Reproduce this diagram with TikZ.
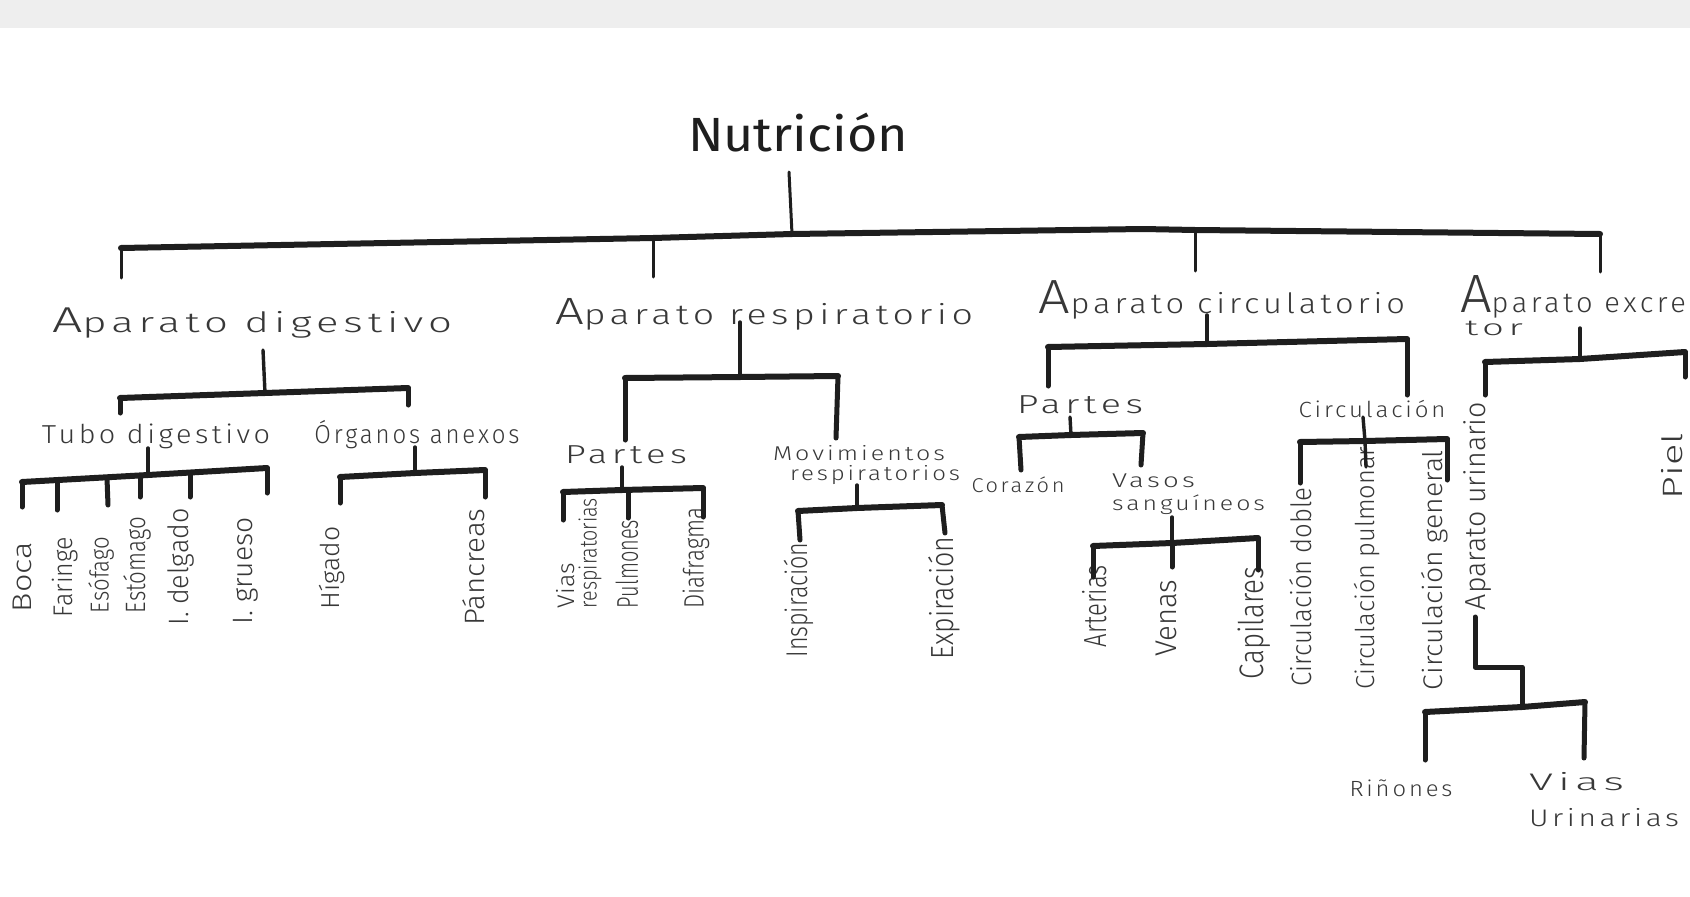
\documentclass[tikz,border=0pt]{standalone}
\usepackage{fontspec}
\usepackage{graphicx}
\setmainfont{Fira Sans Light}[LetterSpace=12]
\newfontfamily\titlefont{Fira Sans}
\newfontfamily\tight{Fira Sans Light}
\newcommand\fw[2]{\resizebox{#1pt}{\height}{#2}}
\newcommand\fsz[1]{\fontsize{#1}{#1}\selectfont}
\definecolor{ink}{HTML}{1E1E1E}
\definecolor{pencil}{HTML}{383838}
\definecolor{band}{HTML}{EEEEEE}
\begin{document}
\begin{tikzpicture}[x=1pt,y=-1pt,
  lbl/.style={inner sep=0pt, outer sep=0pt, text=pencil},
  vlbl/.style={lbl, rotate=90, font=\tight},
  stemline/.style={draw=ink, line width=3.4pt, line cap=round},
  barline/.style={draw=ink, line width=6pt, line cap=round, line join=round},
  dropline/.style={draw=ink, line width=5pt, line cap=round},
  thindrop/.style={draw=ink, line width=3pt, line cap=round}]
\useasboundingbox (0,0) rectangle (1690,897);
\fill[white] (0,0) rectangle (1690,897);
\fill[band] (0,0) rectangle (1690,28);
\clip (0,0) rectangle (1690,897);

% ---------- labels ----------
\node[lbl, anchor=base, text=ink] (nut) at (798,151) {\titlefont\fsz{48}\fw{220}{Nutrición}};

\node[lbl, anchor=base] (dig)  at (252,332)  {\fsz{28}\fw{400}{{\fsz{36}A}parato digestivo}};
\node[lbl, anchor=base] (resp) at (764,324)  {\fsz{28}\fw{418}{{\fsz{38}A}parato respiratorio}};
\node[lbl, anchor=base] (circ) at (1222,313) {\fsz{28}\fw{366}{{\fsz{48}A}parato circulatorio}};
\node[lbl, anchor=base west] (excr) at (1460,312) {\fsz{28}\fw{226}{{\fsz{54}A}parato excre}};
\node[lbl, anchor=base west] (tor) at (1465,335) {\fsz{22}\fw{58}{tor}};

\node[lbl, anchor=base] (tubo) at (156,443) {\fsz{26}\fw{228}{Tubo digestivo}};
\node[lbl, anchor=base] (org)  at (417,443) {\fsz{26}\fw{205}{Órganos anexos}};

\node[vlbl] (boca) at (22,577)  {\fsz{27}\fw{70}{Boca}};
\node[vlbl] (far)  at (65,577)  {\fsz{27}\fw{80}{Faringe}};
\node[vlbl] (eso)  at (101,575) {\fsz{26}\fw{76}{Esófago}};
\node[vlbl] (est)  at (137,565) {\fsz{28}\fw{96}{Estómago}};
\node[vlbl] (idel) at (181,567) {\fsz{28}\fw{117}{I. delgado}};
\node[vlbl] (igru) at (246,571) {\fsz{28}\fw{107}{I. grueso}};
\node[vlbl] (hig)  at (332,568) {\fsz{26}\fw{83}{Hígado}};
\node[vlbl] (pan)  at (474,567) {\fsz{28}\fw{117}{Páncreas}};

\node[lbl, anchor=base] (partesR) at (626,463) {\fsz{26}\fw{122}{Partes}};
\node[lbl, anchor=north west, align=left, font=\fontsize{20}{20}\selectfont] (mov) at (773,445)
  {\fw{172}{Movimientos}\\\hspace*{17pt}\fw{170}{respiratorios}};
\node[vlbl, align=left, font=\tight\fontsize{24}{22}\selectfont] (viasr) at (579,553)
  {\fw{45}{Vias}\\\fw{110}{respiratorias}};
\node[vlbl] (pul)  at (627,564) {\fsz{30}\fw{88}{Pulmones}};
\node[vlbl] (dia)  at (696,558) {\fsz{28}\fw{101}{Diafragma}};
\node[vlbl] (insp) at (799,600) {\fsz{30}\fw{115}{Inspiración}};
\node[vlbl] (expi) at (944,598) {\fsz{32}\fw{123}{Expiración}};

\node[lbl, anchor=base] (partesC) at (1080,413) {\fsz{26}\fw{126}{Partes}};
\node[lbl, anchor=base] (circn) at (1372,417) {\fsz{22}\fw{147}{Circulación}};
\node[lbl, anchor=base] (coraz) at (1018,492) {\fsz{20}\fw{93}{Corazón}};
\node[lbl, anchor=north west, align=left, font=\fontsize{20}{23}\selectfont] (vasos) at (1112,474)
  {\fw{83}{Vasos}\\\fw{153}{sanguíneos}};
\node[vlbl] (art)  at (1095,606) {\fsz{32}\fw{82}{Arterias}};
\node[vlbl] (ven)  at (1166,618) {\fsz{30}\fw{77}{Venas}};
\node[vlbl] (cap)  at (1254,623) {\fsz{34}\fw{113}{Capilares}};
\node[vlbl] (cdob) at (1301,587) {\fsz{28}\fw{199}{Circulación doble}};
\node[vlbl] (cpul) at (1367,568) {\fsz{26}\fw{243}{Circulación pulmonar}};
\node[vlbl] (cgen) at (1435,570) {\fsz{27}\fw{240}{Circulación general}};

\node[vlbl] (aurin) at (1478,506) {\fsz{29}\fw{208}{Aparato urinario}};
\node[vlbl] (piel)  at (1672,466) {\fsz{28}\fw{66}{Piel}};
\node[lbl, anchor=base] (rin) at (1401,796) {\fsz{22}\fw{103}{Riñones}};
\node[lbl, anchor=north west, align=left, font=\fontsize{24}{36}\selectfont] (viasu) at (1529,772)
  {\fw{95}{Vias}\\\fw{150}{Urinarias}};

% ---------- main tree ----------
\coordinate (n0) at (789,172);
\coordinate (m1) at (121,248);
\coordinate (m2) at (653,238);
\coordinate (m3) at (792,234);
\coordinate (m4) at (1143,229);
\coordinate (m5) at (1195,230);
\coordinate (m6) at (1600,234);
\coordinate (m1e) at (121,278);
\coordinate (m2e) at (653,277);
\coordinate (m5e) at (1195,271);
\coordinate (m6e) at (1600,272);
\draw[thindrop] (n0) -- (m3);
\draw[barline] (m1) -- (m2) -- (m3) -- (m4) -- (m5) -- (m6);
\draw[thindrop] (m1) -- (m1e);
\draw[thindrop] (m2) -- (m2e);
\draw[thindrop] (m5) -- (m5e);
\draw[thindrop] (m6) -- (m6e);

% ---------- digestivo ----------
\coordinate (d0) at (263,350);
\coordinate (dL) at (120,398);
\coordinate (dM) at (265,393);
\coordinate (dR) at (408,388);
\coordinate (dLe) at (120,413);
\coordinate (dRe) at (408,405);
\draw[stemline] (d0) -- (dM);
\draw[barline] (dL) -- (dM) -- (dR);
\draw[dropline] (dL) -- (dLe);
\draw[dropline] (dR) -- (dRe);

\coordinate (t0) at (148,448);
\coordinate (tL) at (22,482);
\coordinate (tM) at (148,475);
\coordinate (tR) at (267,468);
\coordinate (t1) at (57,480);
\coordinate (t2) at (107,478);
\coordinate (t3) at (140,476);
\coordinate (t4) at (190,473);
\coordinate (tLe) at (22,507);
\coordinate (t1e) at (57,510);
\coordinate (t2e) at (108,505);
\coordinate (t3e) at (140,497);
\coordinate (t4e) at (190,497);
\coordinate (tRe) at (267,493);
\draw[stemline] (t0) -- (tM);
\draw[barline] (tL) -- (tM) -- (tR);
\draw[dropline] (tL) -- (tLe);
\draw[dropline] (t1) -- (t1e);
\draw[dropline] (t2) -- (t2e);
\draw[dropline] (t3) -- (t3e);
\draw[dropline] (t4) -- (t4e);
\draw[dropline] (tR) -- (tRe);

\coordinate (o0) at (415,447);
\coordinate (oL) at (340,477);
\coordinate (oM) at (415,473);
\coordinate (oR) at (485,470);
\coordinate (oLe) at (340,503);
\coordinate (oRe) at (485,497);
\draw[stemline] (o0) -- (oM);
\draw[barline] (oL) -- (oM) -- (oR);
\draw[dropline] (oL) -- (oLe);
\draw[dropline] (oR) -- (oRe);

% ---------- respiratorio ----------
\coordinate (r0) at (740,322);
\coordinate (rL) at (625,378);
\coordinate (rM) at (740,377);
\coordinate (rR) at (838,376);
\coordinate (rLe) at (625,440);
\coordinate (rRe) at (836,438);
\draw[stemline] (r0) -- (rM);
\draw[barline] (rL) -- (rM) -- (rR);
\draw[dropline] (rL) -- (rLe);
\draw[dropline] (rR) -- (rRe);

\coordinate (p0) at (622,467);
\coordinate (pL) at (563,492);
\coordinate (pM) at (622,490);
\coordinate (pC) at (628,490);
\coordinate (pR) at (703,488);
\coordinate (pLe) at (563,520);
\coordinate (pCe) at (628,518);
\coordinate (pRe) at (703,517);
\draw[stemline] (p0) -- (pM);
\draw[barline] (pL) -- (pM) -- (pR);
\draw[dropline] (pL) -- (pLe);
\draw[dropline] (pC) -- (pCe);
\draw[dropline] (pR) -- (pRe);

\coordinate (v0) at (857,485);
\coordinate (vL) at (798,511);
\coordinate (vM) at (857,508);
\coordinate (vR) at (942,505);
\coordinate (vLe) at (800,540);
\coordinate (vRe) at (945,533);
\draw[stemline] (v0) -- (vM);
\draw[barline] (vL) -- (vM) -- (vR);
\draw[dropline] (vL) -- (vLe);
\draw[dropline] (vR) -- (vRe);

% ---------- circulatorio ----------
\coordinate (c0) at (1207,315);
\coordinate (cL) at (1048,347);
\coordinate (cM) at (1207,344);
\coordinate (cR) at (1407,339);
\coordinate (cLe) at (1048,386);
\coordinate (cRe) at (1407,395);
\draw[stemline] (c0) -- (cM);
\draw[barline] (cL) -- (cM) -- (cR);
\draw[dropline] (cL) -- (cLe);
\draw[dropline] (cR) -- (cRe);

\coordinate (k0) at (1070,417);
\coordinate (kL) at (1019,437);
\coordinate (kM) at (1071,435);
\coordinate (kR) at (1143,433);
\coordinate (kLe) at (1021,470);
\coordinate (kRe) at (1141,465);
\draw[stemline] (k0) -- (kM);
\draw[barline] (kL) -- (kM) -- (kR);
\draw[dropline] (kL) -- (kLe);
\draw[dropline] (kR) -- (kRe);

\coordinate (s0) at (1172,517);
\coordinate (sL) at (1093,546);
\coordinate (sM) at (1172,543);
\coordinate (sR) at (1258,538);
\coordinate (sLe) at (1093,577);
\coordinate (sMe) at (1172,567);
\coordinate (sRe) at (1258,570);
\draw[stemline] (s0) -- (sM);
\draw[barline] (sL) -- (sM) -- (sR);
\draw[dropline] (sL) -- (sLe);
\draw[dropline] (sM) -- (sMe);
\draw[dropline] (sR) -- (sRe);

\coordinate (q0) at (1363,417);
\coordinate (qL) at (1300,442);
\coordinate (qM) at (1365,441);
\coordinate (qR) at (1447,439);
\coordinate (qLe) at (1300,483);
\coordinate (qMe) at (1366,467);
\coordinate (qRe) at (1447,480);
\draw[stemline] (q0) -- (qM) -- (qMe);
\draw[barline] (qL) -- (qM) -- (qR);
\draw[dropline] (qL) -- (qLe);
\draw[dropline] (qR) -- (qRe);

% ---------- excretor ----------
\coordinate (x0) at (1580,328);
\coordinate (xL) at (1485,362);
\coordinate (xM) at (1580,359);
\coordinate (xR) at (1685,352);
\coordinate (xLe) at (1485,395);
\coordinate (xRe) at (1685,377);
\draw[stemline] (x0) -- (xM);
\draw[barline] (xL) -- (xM) -- (xR);
\draw[dropline] (xL) -- (xLe);
\draw[dropline] (xR) -- (xRe);

\coordinate (u0) at (1475,617);
\coordinate (u1) at (1475,667);
\coordinate (u2) at (1522,667);
\coordinate (uL) at (1425,712);
\coordinate (uM) at (1522,707);
\coordinate (uR) at (1585,702);
\coordinate (uLe) at (1425,760);
\coordinate (uRe) at (1584,758);
\draw[dropline, line join=round] (u0) -- (u1) -- (u2) -- (uM);
\draw[barline] (uL) -- (uM) -- (uR);
\draw[dropline] (uL) -- (uLe);
\draw[dropline] (uR) -- (uRe);
\end{tikzpicture}
\end{document}
